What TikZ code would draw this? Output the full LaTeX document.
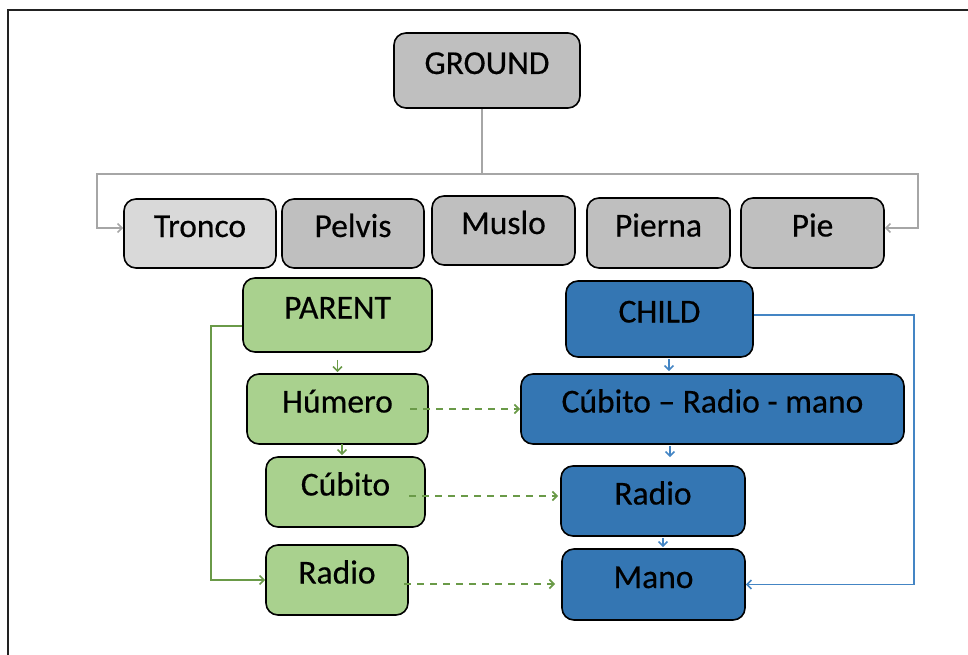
\documentclass[tikz,border=0pt]{standalone}
\usepackage{fontspec}
\setmainfont{Carlito}
\newfontface\boxfont{Carlito}[FakeBold=0.4]
\usetikzlibrary{arrows.meta}
\definecolor{gfill}{HTML}{BFBFBF}
\definecolor{lgfill}{HTML}{D9D9D9}
\definecolor{grfill}{HTML}{A9D18E}
\definecolor{blfill}{HTML}{3476B3}
\definecolor{grline}{HTML}{6A9A48}
\definecolor{blline}{HTML}{4485C4}
\definecolor{gyline}{HTML}{A6A6A6}
\definecolor{frame}{HTML}{222222}
\tikzset{
  box/.style={draw=black, line width=1.6pt, rounded corners=12pt, inner sep=0pt,
    font=\boxfont\fontsize{33.5}{38}\selectfont, text height=23pt, text depth=16pt},
  graybox/.style={box, fill=gfill},
  lgraybox/.style={box, fill=lgfill},
  greenbox/.style={box, fill=grfill},
  bluebox/.style={box, fill=blfill},
  tip/.style={-{Straight Barb[length=4.5pt,width=9pt]}},
  gyarrow/.style={tip, draw=gyline, line width=1.6pt},
  gyln/.style={draw=gyline, line width=1.6pt},
  grarrow/.style={tip, draw=grline, line width=1.6pt},
  grdash/.style={tip, draw=grline, line width=1.8pt, dash pattern=on 7pt off 6pt},
  blarrow/.style={tip, draw=blline, line width=1.6pt},
}
\newcommand\bx[7]{\node[#6, minimum width={#4-#2}, minimum height={#5-#3}] (#1) at ({(#2+#4)/2},{(#3+#5)/2}) {#7};}
\begin{document}
\begin{tikzpicture}[x=1pt,y=-1pt]
\useasboundingbox (0,0) rectangle (968,655);
\draw[frame, line width=2.5pt] (8,655) -- (8,10) -- (968,10);

\bx{ground}{394}{33}{580}{108}{graybox}{GROUND}
\bx{tronco}{124}{199}{276}{268}{lgraybox}{Tronco}
\bx{pelvis}{282}{199}{424}{268}{graybox}{Pelvis}
\bx{muslo}{432}{196}{575}{265}{graybox}{Muslo}
\bx{pierna}{587}{198}{730}{268}{graybox}{Pierna}
\bx{pie}{741}{198}{884}{268}{graybox}{Pie}

\bx{parent}{243}{278}{432}{352}{greenbox}{PARENT}
\bx{humero}{247}{374}{428}{444}{greenbox}{Húmero}
\bx{cubito}{266}{457}{425}{527}{greenbox}{Cúbito}
\bx{radiog}{266}{545}{408}{615}{greenbox}{Radio}

\bx{child}{566}{281}{753}{357}{bluebox}{CHILD}
\bx{crm}{521}{374}{904}{444}{bluebox}{Cúbito – Radio - mano}
\bx{radiob}{561}{466}{745}{536}{bluebox}{Radio}
\bx{mano}{562}{549}{745}{620}{bluebox}{Mano}

% gray tree
\coordinate (j) at (482,174);
\coordinate (jl) at (97,228);
\coordinate (jr) at (918,228);
\draw[gyln] (j |- ground.south) -- (j);
\draw[gyarrow] (j) -| (jl) -- (tronco.west |- jl);
\draw[gyarrow] (j) -| (jr) -- (pie.east |- jr);

% green
\draw[grarrow, shorten <=7pt, shorten >=1pt] (parent.south) -- (humero.north);
\coordinate (hc) at (342,444);
\draw[grarrow, shorten >=1pt] (hc) -- (hc |- cubito.north);
\draw[grarrow] ([yshift=-11pt]parent.west) -- ++(-31,0) |- (radiog.west);

\coordinate (d1) at (410,409);
\coordinate (d2) at (409,496);
\coordinate (d3) at (404,584);
\draw[grdash] (d1) -- (crm.west |- d1);
\draw[grdash, shorten >=2pt] (d2) -- (radiob.west |- d2);
\draw[grdash, shorten >=6pt] (d3) -- (mano.west |- d3);

% blue
\coordinate (b1) at (669,359);
\coordinate (b2) at (670,446);
\coordinate (b3) at (663,538);
\draw[blarrow, shorten >=2pt] (b1) -- (b1 |- crm.north);
\draw[blarrow, shorten >=8pt] (b2) -- (b2 |- radiob.north);
\draw[blarrow, shorten >=1pt] (b3) -- (b3 |- mano.north);
\coordinate (rc) at (914,315);
\draw[blarrow] ([yshift=4pt]child.east) -- (rc) |- (mano.east);
\end{tikzpicture}
\end{document}
